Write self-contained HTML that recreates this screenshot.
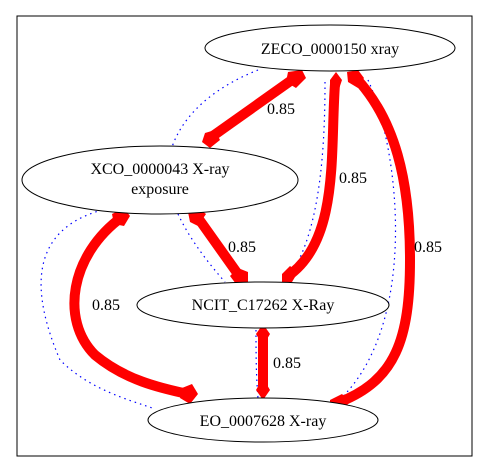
<!DOCTYPE html>
<html><head><style>body{margin:0;background:#fff}svg{display:block}text{font-family:"Liberation Serif","Times New Roman",Times,"DejaVu Serif",serif;font-size:16px}</style></head><body>
<svg width="489" height="473" viewBox="0 0 489 473" xmlns="http://www.w3.org/2000/svg">
<rect x="17" y="16" width="455" height="440" fill="#fff" stroke="#000"/>
<g fill="none" stroke="#00f" stroke-dasharray="1.5,4" stroke-width="1.2">
<path d="M258,70 C220,85 185,110 172,147"/>
<path d="M102,210 C30,230 30,290 60,360 C90,390 130,400 152,408"/>
<path d="M178,214 C190,240 210,265 225,282"/>
<path d="M325,82 C325,150 320,240 285,282"/>
<path d="M368,80 C400,150 420,330 335,404"/>
<path d="M256,330 C256,350 256,375 258,398"/>
</g>
<g fill="none" stroke="#f00" stroke-width="10" stroke-linecap="round">
<path d="M296,77 L210,138"/>
<path d="M335,84 C330,150 340,240 288,276"/>
<path d="M356,78 C395,120 410,180 410,260 C410,340 395,380 340,402"/>
<path d="M196,215 L240,277"/>
<path d="M122,217 C70,255 60,320 95,355 C125,380 160,388 188,394"/>
<path d="M263,334 L263,389"/>
</g>
<g fill="#f00">
<path d="M288,72 L302,70 L306,78 L296,88 L286,82Z"/>
<path d="M205,133 L215,130 L220,140 L210,148 L202,142Z"/>
<path d="M330,80 L336,72 L342,80 L338,92 L330,90Z"/>
<path d="M282,274 L290,266 L298,272 L292,282 L282,282Z"/>
<path d="M347,72 L358,70 L364,78 L358,88 L348,82Z"/>
<path d="M330,400 L342,394 L350,402 L342,410 L330,408Z"/>
<path d="M188,212 L198,208 L206,214 L198,226 L190,222Z"/>
<path d="M230,276 L238,268 L248,272 L248,284 L236,284Z"/>
<path d="M112,214 L124,208 L130,216 L124,226 L114,224Z"/>
<path d="M182,388 L192,384 L198,394 L190,404 L180,398Z"/>
<path d="M263,324 L270,334 L263,346 L256,334Z"/>
<path d="M263,378 L270,390 L263,400 L256,390Z"/>
</g>
<g fill="#fff" stroke="#000" stroke-width="1">
<ellipse cx="330" cy="48" rx="125" ry="23"/>
<ellipse cx="160" cy="180" rx="138" ry="34"/>
<ellipse cx="263" cy="305" rx="126" ry="23"/>
<ellipse cx="263" cy="420" rx="115" ry="22"/>
</g>
<g text-anchor="middle" fill="#000">
<text x="330" y="54">ZECO_0000150 xray</text>
<text x="160" y="174">XCO_0000043 X-ray</text>
<text x="160" y="194">exposure</text>
<text x="263" y="310">NCIT_C17262 X-Ray</text>
<text x="263" y="426">EO_0007628 X-ray</text>
<text x="281" y="114">0.85</text>
<text x="353" y="183">0.85</text>
<text x="428" y="252">0.85</text>
<text x="242" y="252">0.85</text>
<text x="106" y="310">0.85</text>
<text x="287" y="368">0.85</text>
</g>
</svg>
</body></html>
